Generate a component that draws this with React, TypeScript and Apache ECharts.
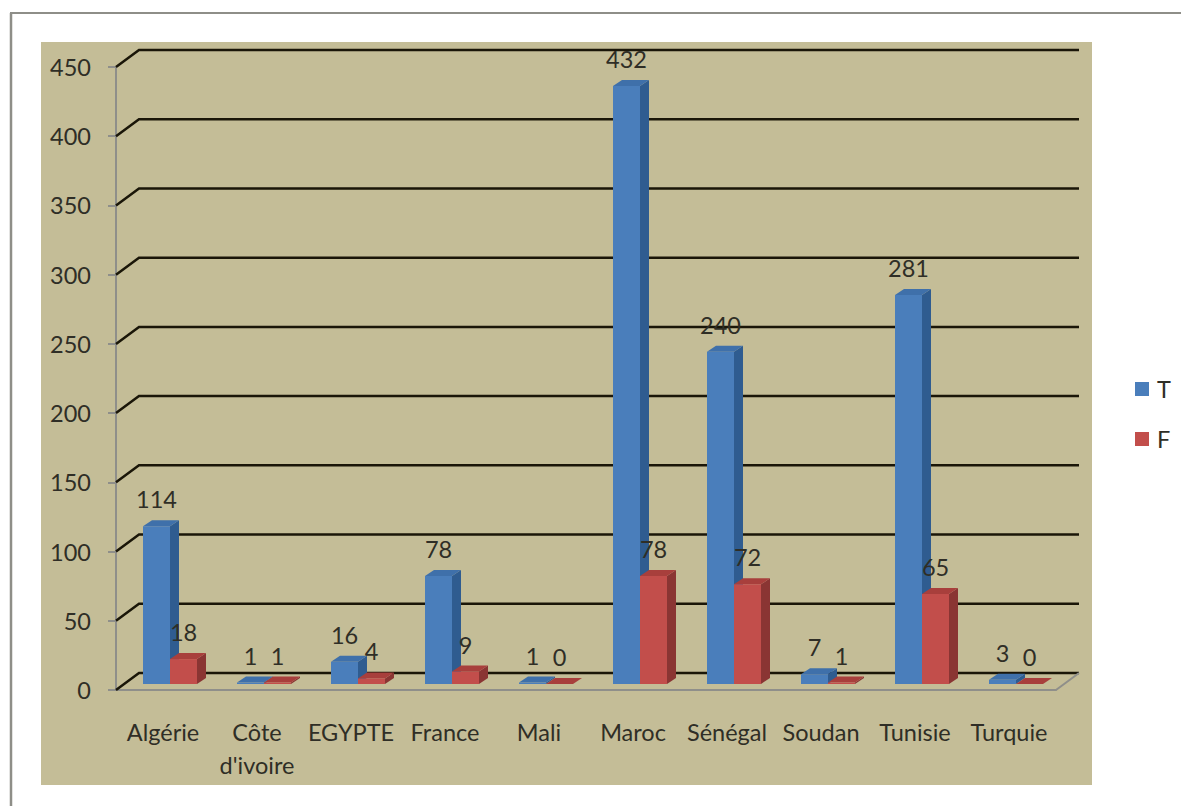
import React, { useEffect, useRef } from "react";
import * as echarts from "echarts";

const categories = ["Algérie", "Côte\nd'ivoire", "EGYPTE", "France", "Mali", "Maroc", "Sénégal", "Soudan", "Tunisie", "Turquie"];
const valuesT = [114, 1, 16, 78, 1, 432, 240, 7, 281, 3];
const valuesF = [18, 1, 4, 9, 0, 78, 72, 1, 65, 0];
const wallTicks = [0, 50, 100, 150, 200, 250, 300, 350, 400, 450];

const FONT = "Lato";
const FS = 23.5;
const TEXT = "#2f2e26";
const WALL_DX = 23;
const WALL_DY = 17;
const BAR_W = 27;
const BAR_DX = 9;
const BAR_DY = 6;
const BASE_DY = 6;
const CENTER_SHIFT = 7;

const BLUE = { front: "#4A7EBB", side: "#2F5C90", top: "#3F70AA" };
const RED = { front: "#C24E4B", side: "#8A3533", top: "#A83F3C" };

function bars(palette: typeof BLUE, offset: number) {
  return (_params: any, api: any) => {
    const i = api.value(0);
    const v = api.value(1);
    const [cx, y0] = api.coord([i, 0]);
    const [, yv] = api.coord([i, v]);
    const x0 = cx + CENTER_SHIFT + offset;
    const x1 = x0 + BAR_W;
    const base = y0 - BASE_DY;
    const top = base - (y0 - yv);
    return {
      type: "group",
      children: [
        {
          type: "polygon",
          shape: { points: [[x1, top], [x1 + BAR_DX, top - BAR_DY], [x1 + BAR_DX, base - BAR_DY], [x1, base]] },
          style: { fill: palette.side },
        },
        {
          type: "polygon",
          shape: { points: [[x0, top], [x0 + BAR_DX, top - BAR_DY], [x1 + BAR_DX, top - BAR_DY], [x1, top]] },
          style: { fill: palette.top },
        },
        { type: "rect", shape: { x: x0, y: top, width: BAR_W, height: base - top }, style: { fill: palette.front } },
        {
          type: "text",
          x: (x0 + x1) / 2,
          y: top - 27,
          style: { text: String(v), fill: TEXT, font: `${FS}px ${FONT}`, align: "center", verticalAlign: "middle" },
        },
      ],
    };
  };
}

function wall(params: any, api: any) {
  const v = api.value(1);
  const y = api.coord([0, v])[1];
  const xl = params.coordSys.x;
  const xr = xl + params.coordSys.width;
  const children: any[] = [
    {
      type: "polyline",
      shape: { points: [[xl, y], [xl + WALL_DX, y - WALL_DY], [xr + WALL_DX, y - WALL_DY]] },
      style: { stroke: "#1a1608", lineWidth: 2.5, fill: "none" },
    },
  ];
  if (v === 0) {
    children.push({
      type: "line",
      shape: { x1: xr, y1: y, x2: xr + WALL_DX, y2: y - WALL_DY },
      style: { stroke: "#8f8f8a", lineWidth: 2 },
    });
  }
  return { type: "group", children };
}

export default function App() {
  const ref = useRef<HTMLDivElement>(null);
  useEffect(() => {
    const chart = echarts.init(ref.current!, undefined, { renderer: "svg" });
    chart.setOption({
      animation: false,
      backgroundColor: "#ffffff",
      textStyle: { fontFamily: FONT },
      graphic: [
        { type: "rect", z: -10, shape: { x: 41, y: 42, width: 1051, height: 743 }, style: { fill: "#C4BD97" } },
        { type: "line", z: -10, shape: { x1: 10, y1: 13, x2: 1181, y2: 13 }, style: { stroke: "#8e8e88", lineWidth: 2 } },
        { type: "line", z: -10, shape: { x1: 11, y1: 13, x2: 11, y2: 806 }, style: { stroke: "#8e8e88", lineWidth: 2.5 } },
      ],
      legend: {
        data: ["T", "F"],
        orient: "vertical",
        left: 1130,
        top: 372,
        itemWidth: 14,
        itemHeight: 14,
        itemGap: 26,
        icon: "rect",
        textStyle: { fontFamily: FONT, fontSize: FS, color: TEXT, padding: [0, 0, 0, 3] },
      },
      grid: { left: 116, top: 67, width: 940, height: 623 },
      xAxis: {
        type: "category",
        data: categories,
        axisLine: { lineStyle: { color: "#8f8f8a", width: 2 } },
        axisTick: { length: 9, lineStyle: { color: "#8f8f8a", width: 2 } },
        axisLabel: { color: TEXT, fontFamily: FONT, fontSize: FS, lineHeight: 33, margin: 25, interval: 0 },
        splitLine: { show: false },
      },
      yAxis: {
        type: "value",
        min: 0,
        max: 450,
        interval: 50,
        axisLine: { show: true, lineStyle: { color: "#8f8f8a", width: 2 } },
        axisTick: { show: true, length: 8, lineStyle: { color: "#8f8f8a", width: 2 } },
        axisLabel: { color: TEXT, fontFamily: FONT, fontSize: FS, margin: 25 },
        splitLine: { show: false },
      },
      series: [
        {
          type: "custom",
          name: "wall",
          z: 1,
          clip: false,
          renderItem: wall,
          encode: { x: 0, y: 1 },
          data: wallTicks.map((t) => [0, t]),
          silent: true,
        },
        {
          type: "custom",
          name: "T",
          z: 2,
          clip: false,
          itemStyle: { color: "#4A7EBB" },
          renderItem: bars(BLUE, -BAR_W),
          encode: { x: 0, y: 1 },
          data: valuesT.map((v, i) => [i, v]),
        },
        {
          type: "custom",
          name: "F",
          z: 3,
          clip: false,
          itemStyle: { color: "#C24E4B" },
          renderItem: bars(RED, 0),
          encode: { x: 0, y: 1 },
          data: valuesF.map((v, i) => [i, v]),
        },
      ],
    });
    return () => chart.dispose();
  }, []);
  return <div ref={ref} style={{ position: "absolute", left: 0, top: 0, width: 1181, height: 806 }} />;
}
